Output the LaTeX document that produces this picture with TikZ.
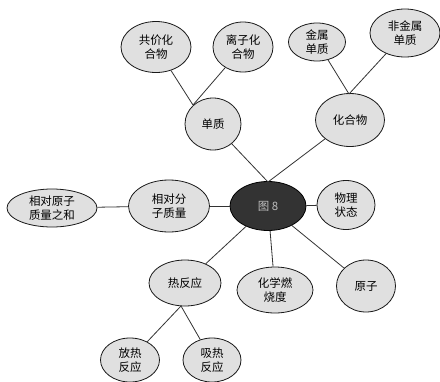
\documentclass[tikz,border=0pt]{standalone}
\usepackage{fontspec}
\newfontfamily\cjk{Noto Sans CJK SC}
\usetikzlibrary{shapes.geometric}
\tikzset{
  bubble/.style={ellipse, draw=black!90, line width=0.8pt, fill=black!12, inner sep=0pt,
    align=center, font=\cjk\fontsize{11.5}{14}\selectfont, text=black},
  link/.style={draw=black!80, line width=0.8pt},
}
\begin{document}
\begin{tikzpicture}[x=1pt,y=-1pt]
\useasboundingbox (0,0) rectangle (440,381);
\fill[white] (0,0) rectangle (440,381);
\node[bubble, minimum width=70pt, minimum height=51pt] (gjh) at (156,47) {共价化\\合物};
\node[bubble, minimum width=60pt, minimum height=50pt] (lzh) at (243,47) {离子化\\合物};
\node[bubble, minimum width=57pt, minimum height=38pt] (jsdz) at (317,42) {金属\\单质};
\node[bubble, minimum width=70pt, minimum height=48pt] (fjs) at (405,33) {非金属\\单质};
\node[bubble, minimum width=56pt, minimum height=52pt] (dz) at (213,124) {单质};
\node[bubble, minimum width=69pt, minimum height=53pt] (hhw) at (350,120) {化合物};
\node[ellipse, draw=black, line width=0.8pt, fill=black!80, inner sep=0pt,
  minimum width=76pt, minimum height=49pt, text=black!25,
  font=\cjk\fontsize{11.5}{14}\selectfont] (t8) at (268,206) {图 8};
\node[bubble, minimum width=58pt, minimum height=49pt] (wl) at (346,205) {物理\\状态};
\node[bubble, minimum width=59pt, minimum height=52pt] (yz) at (366,286) {原子};
\node[bubble, minimum width=76pt, minimum height=46pt] (rsd) at (275,290) {化学燃\\烧度};
\node[bubble, minimum width=81pt, minimum height=52pt] (xdfz) at (169,206) {相对分\\子质量};
\node[bubble, minimum width=90pt, minimum height=38pt] (xdyz) at (52,208) {相对原子\\质量之和};
\node[bubble, minimum width=72pt, minimum height=46pt] (rfy) at (185,283) {热反应};
\node[bubble, minimum width=59pt, minimum height=44pt] (frf) at (130,360) {放热\\反应};
\node[bubble, minimum width=58pt, minimum height=44pt] (xrf) at (212,360) {吸热\\反应};
\coordinate (jdz) at (193,105);
\coordinate (jhh) at (349,94);
\coordinate (j8) at (268,182);
\coordinate (jrf) at (181,306);
\path[link] (gjh) -- (jdz);
\path[link] (lzh) -- (jdz);
\path[link] (jsdz) -- (jhh);
\path[link] (fjs) -- (jhh);
\path[link] (dz) -- (j8);
\path[link] (hhw) -- (j8);
\path[link] (t8) -- (wl);
\path[link] (t8) -- (xdfz);
\path[link] (xdfz) -- (xdyz);
\path[link] (t8) -- (rfy);
\path[link] (t8) -- (rsd);
\path[link] (t8) -- (yz);
\path[link] (jrf) -- (frf);
\path[link] (jrf) -- (xrf);
\end{tikzpicture}
\end{document}
